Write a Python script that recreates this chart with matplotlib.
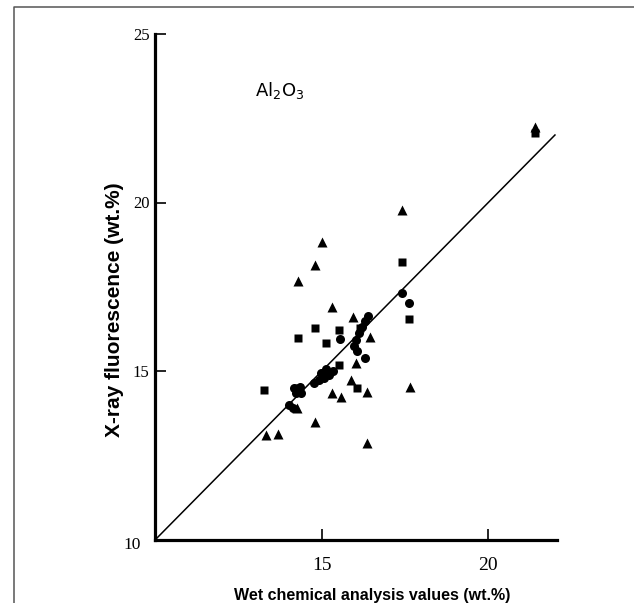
import numpy as np
import matplotlib
matplotlib.use("Agg")
import matplotlib.pyplot as plt
from matplotlib.lines import Line2D

# XRF vs wet chemical Al2O3 (wt.%)
tri_x = [14.80, 14.29, 15.31, 15.94, 16.45, 15.88, 15.31, 15.57, 16.37, 17.65, 14.80, 13.33, 13.70,
         16.37, 14.26, 21.40, 17.40, 15.01, 16.03]
tri_y = [18.15, 17.67, 16.90, 16.62, 16.01, 14.74, 14.36, 14.25, 14.39, 14.54, 13.50, 13.11, 13.14,
         12.88, 13.91, 22.24, 19.78, 18.83, 15.24]
sq_x = [17.40, 17.63, 14.80, 15.53, 14.30, 15.13, 15.53, 16.05, 13.27, 21.40, 16.15, 14.32]
sq_y = [18.23, 16.55, 16.29, 16.22, 15.99, 15.85, 15.19, 14.51, 14.44, 22.06, 16.28, 14.50]
circ_x = [17.40, 17.63, 15.55, 16.39, 16.30, 16.21, 16.12, 16.03, 15.97, 16.06, 16.30,
          14.77, 14.92, 15.07, 15.22, 15.34, 15.13, 14.98, 14.17, 14.35, 14.23, 14.38, 14.02, 14.14]
circ_y = [17.33, 17.01, 15.95, 16.64, 16.49, 16.31, 16.13, 15.93, 15.75, 15.60, 15.38,
          14.65, 14.74, 14.80, 14.89, 15.01, 15.07, 14.95, 14.50, 14.53, 14.36, 14.36, 14.00, 13.91]
x_ticks = [15, 20]
y_ticks = [15, 20, 25]

W, H = 634, 603
fig = plt.figure(figsize=(W/100, H/100), dpi=100)
ax = fig.add_axes([155/W, 63/H, 402/W, (540-33.75)/H])
ax.set_xlim(10, 10+402/33.33); ax.set_ylim(10, 25)

ax.plot([10, 22], [10, 22], c="k", lw=1.1, zorder=1)
ax.plot(circ_x, circ_y, "o", c="k", ms=6.5, mec="none", zorder=3)
ax.plot(sq_x, sq_y, "s", c="k", ms=6, mec="none", zorder=3)
ax.plot(tri_x, tri_y, "^", c="k", ms=6.5, mec="none", zorder=3)

for s in ("top", "right"): ax.spines[s].set_visible(False)
for s in ("left", "bottom"): ax.spines[s].set_linewidth(2.3)
ax.set_xticks(x_ticks); ax.set_yticks(y_ticks)
ax.tick_params(direction="in", length=8, width=1.2, colors="k")
ax.tick_params(axis="x", pad=12, labelsize=14)
ax.tick_params(axis="y", pad=4, labelsize=12)
for t in ax.get_xticklabels()+ax.get_yticklabels(): t.set_family("Liberation Serif")
ax.text(-0.035, -0.01, "10", transform=ax.transAxes, ha="right", va="center",
        fontsize=12.5, family="Liberation Serif")

ax.set_xlabel("Wet chemical analysis values (wt.%)", fontsize=11.5, fontweight="bold",
              family="Liberation Sans")
ax.xaxis.set_label_coords(0.54, -0.095)
ax.set_ylabel("X-ray fluorescence (wt.%)", fontsize=15, fontweight="bold",
              family="Liberation Sans")
ax.yaxis.set_label_coords(-0.077, 0.454)
ax.text(13.75, 23.33, "Al$_2$O$_3$", fontsize=13, ha="center", va="center", family="DejaVu Sans")

# thin grey frame around the scanned page
fig.add_artist(Line2D([14/W, 14/W, 1], [0, 1-6.5/H, 1-6.5/H], transform=fig.transFigure,
                      color="#555555", lw=1.1))
fig.savefig("out.png", dpi=100)
